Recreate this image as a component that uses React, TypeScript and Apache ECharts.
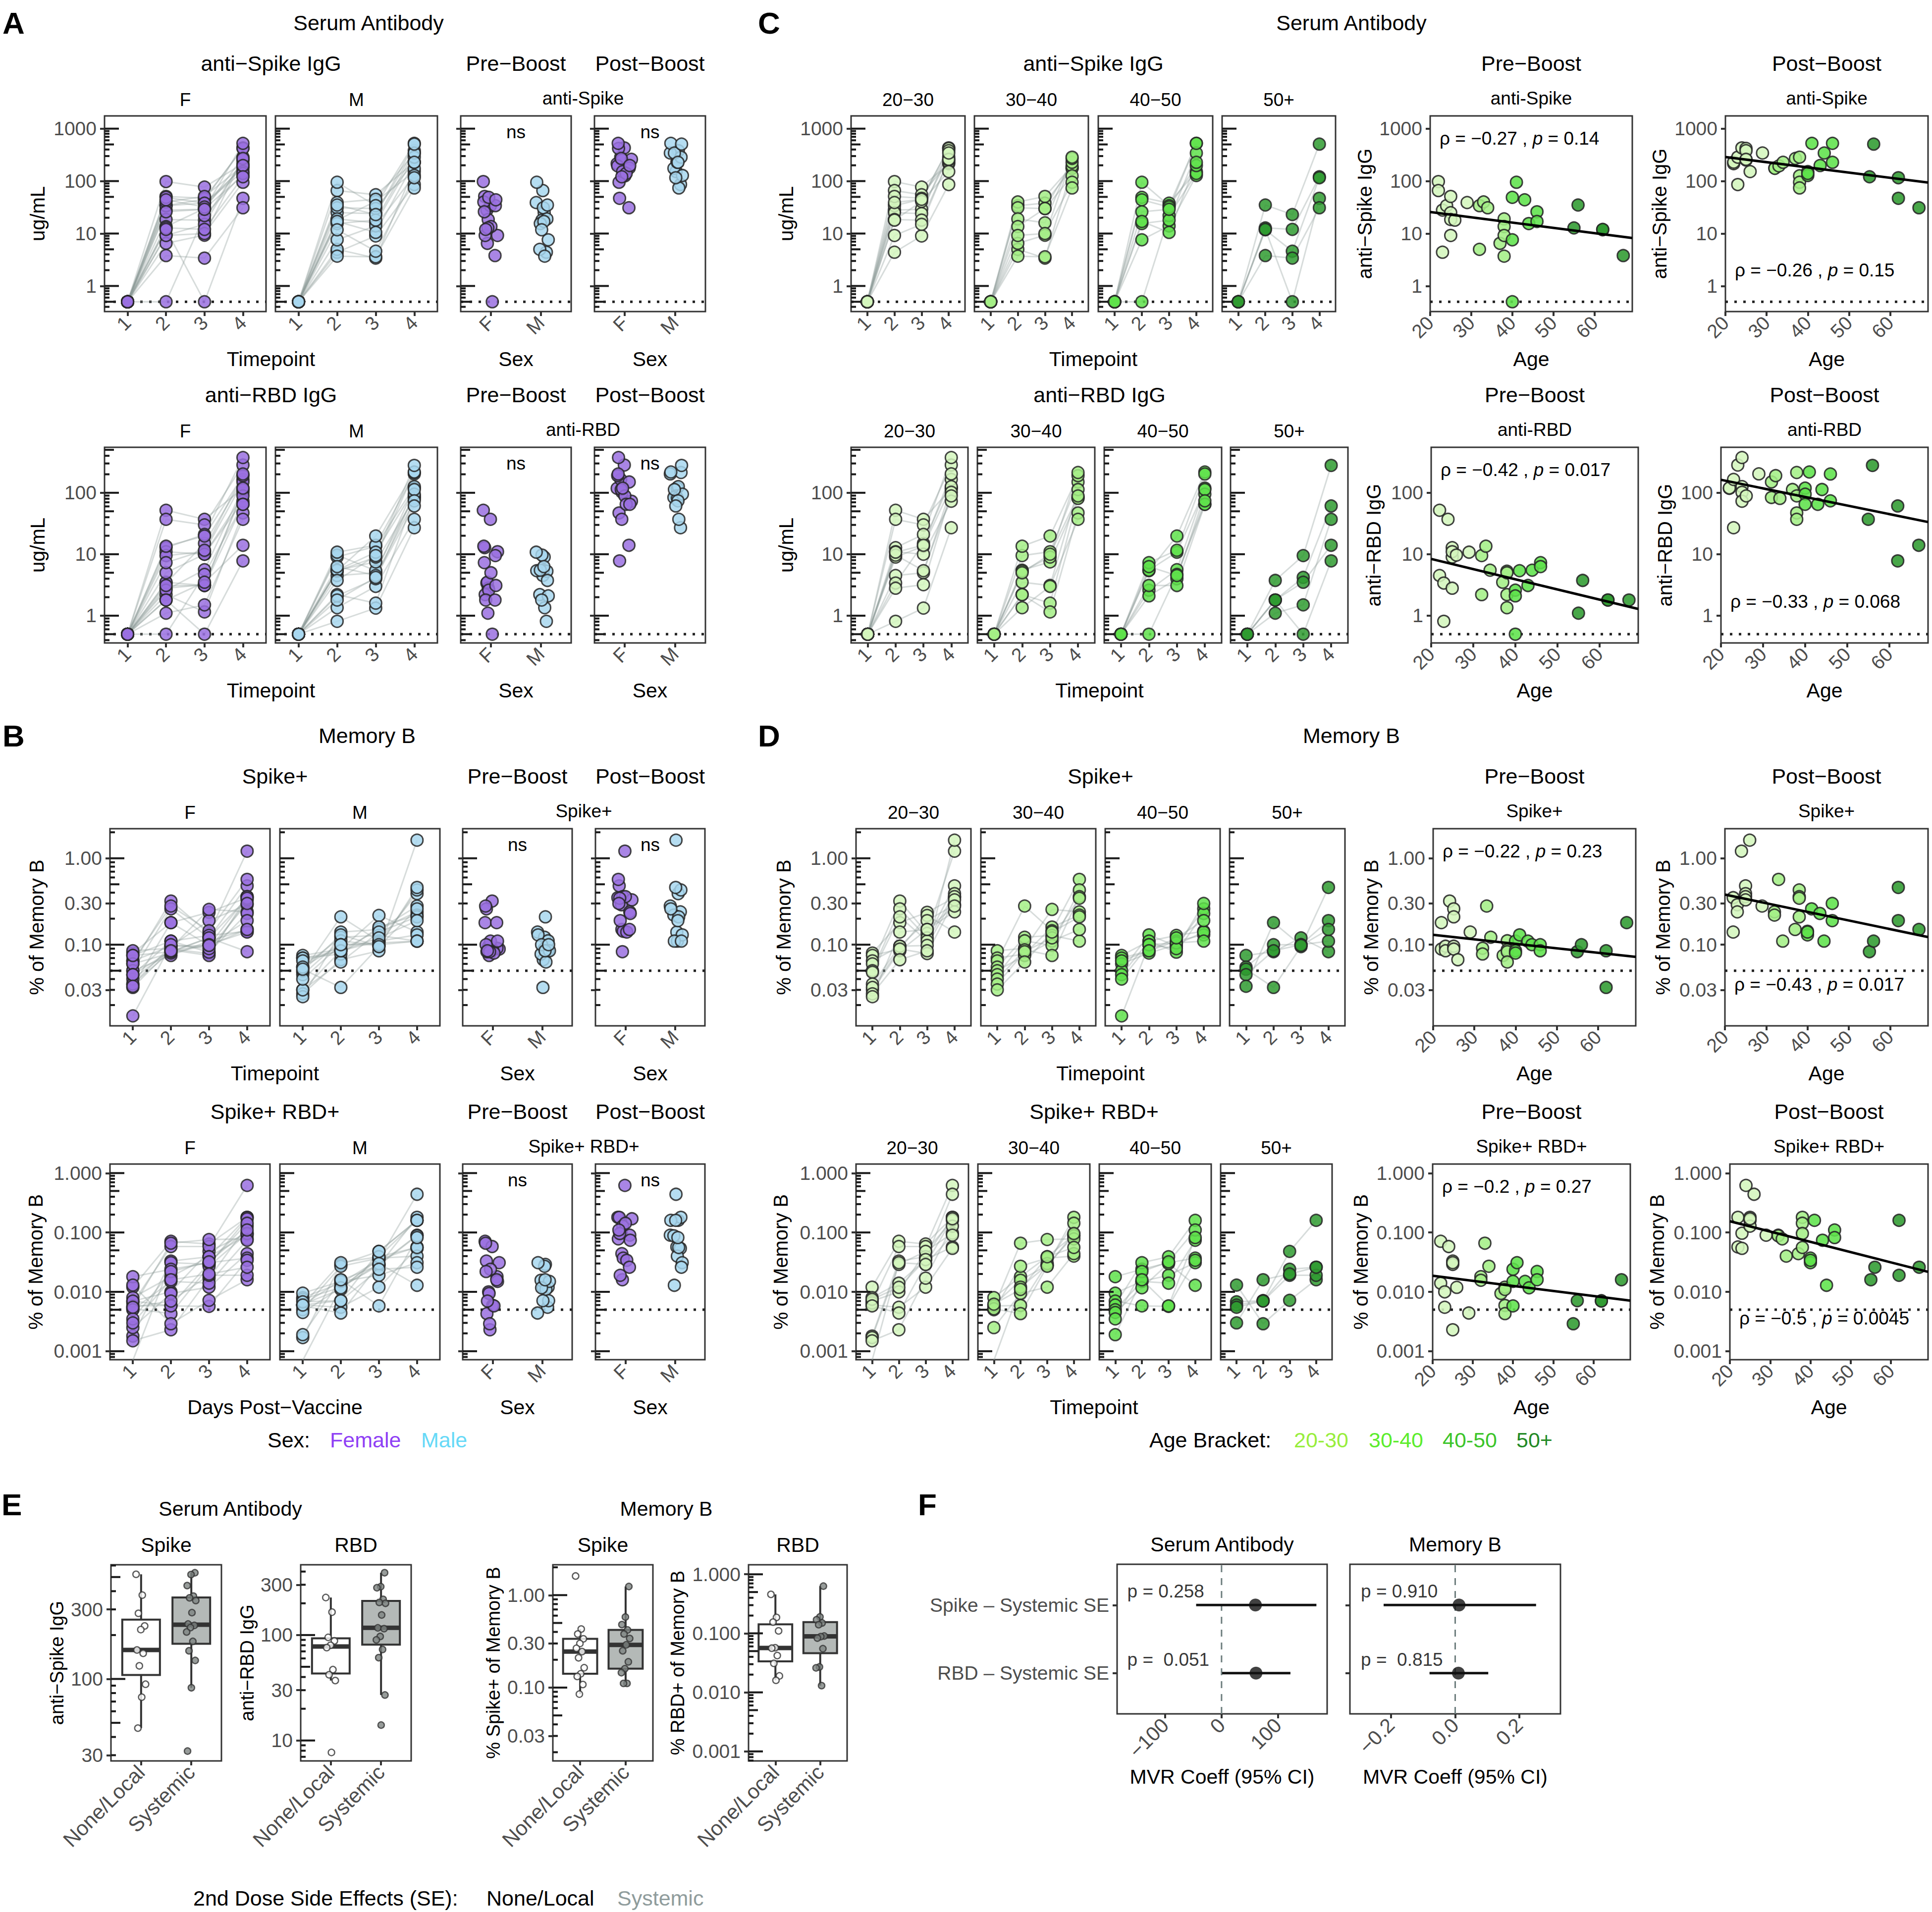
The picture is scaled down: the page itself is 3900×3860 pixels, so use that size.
import React, { useEffect, useRef } from "react";
import * as echarts from "echarts";

const W = 3900;
const H = 3860;

// ================= DATA =================
// subjects (age, sex)
const subjectAge = [22, 22, 23, 23, 24, 25, 25, 25, 25, 26, 29, 32, 32, 33, 34, 37, 38, 38, 38, 38, 40, 40, 40, 41, 43, 44, 46, 46, 55, 56, 62, 62, 67];
const subjectSex = ["F", "M", "F", "M", "F", "F", "M", "F", "F", "M", "M", "F", "M", "F", "M", "F", "M", "F", "F", "M", "F", "M", "F", "M", "F", "M", "F", "M", "F", "M", "M", "F", "F"];

// anti-Spike IgG (ug/mL), timepoints 1-4
const antiSpikeT1 = [0.5, 0.5, 0.5, 0.5, 0.5, 0.5, 0.5, 0.5, 0.5, 0.5, 0.5, 0.5, 0.5, 0.5, 0.5, 0.5, 0.5, 0.5, 0.5, 0.5, 0.5, 0.5, 0.5, 0.5, 0.5, 0.5, 0.5, 0.5, 0.5, 0.5, 0.5, 0.5, 0.5];
const antiSpikeT2 = [98, 66, 28, 4.4, 34, 51, 25, 18.5, 9.2, 18, 39, 34, 5.0, 40, 31, 6.5, 19, 13.6, 9.2, 3.7, 49, 7.6, 0.5, 95, 44, 15.5, 26, 17, 12.8, 35, 11.8, 12, 3.8];
const antiSpikeT3 = [77, 55, 29, 9, 45, 47, 24, 18, 15, 41, 45, 38, 3.4, 51, 30, 9.3, 16, 30, 10, 3.6, 38, 14, 22, 34, 32, 18, 29, 10.5, 12, 23, 4.6, 0.5, 3.4];
const antiSpikeT4 = [215, 230, 286, 86, 430, 420, 380, 252, 260, 152, 343, 178, 175, 195, 228, 270, 286, 126, 95, 74, 152, 128, 140, 525, 198, 343, 525, 228, 121, 507, 116, 47, 31];

// anti-RBD IgG (ug/mL)
const antiRBDT1 = [0.5, 0.5, 0.5, 0.5, 0.5, 0.5, 0.5, 0.5, 0.5, 0.5, 0.5, 0.5, 0.5, 0.5, 0.5, 0.5, 0.5, 0.5, 0.5, 0.5, 0.5, 0.5, 0.5, 0.5, 0.5, 0.5, 0.5, 0.5, 0.5, 0.5, 0.5, 0.5, 0.5];
const antiRBDT2 = [52, 4.5, 3.4, 0.81, 37, 12.8, 9.0, 2.8, 11, 9.7, 10.8, 9.5, 2.2, 13.5, 5.5, 3.5, 5.3, 5.0, 2.2, 1.35, 2.6, 2.1, 0.5, 5.4, 3.1, 5.5, 7.3, 6.3, 1.1, 3.75, 1.8, 1.8, 1.8];
const antiRBDT3 = [37, 5, 15, 1.33, 30, 21, 13.5, 3.2, 10, 5.4, 14, 11, 1.6, 19.8, 7.5, 3.1, 9, 10, 1.15, 3, 5.6, 4.0, 4.7, 19.8, 3.1, 10.8, 11.6, 4.5, 1.5, 9.5, 4.2, 0.5, 3.5];
const antiRBDT4 = [118, 120, 165, 27, 283, 375, 126, 102, 73, 89, 203, 150, 84, 190, 81, 113, 214, 89, 47, 37, 119, 95, 65, 218, 65, 113, 202, 74, 37, 279, 61, 7.8, 14];

// Spike+ memory B (% of memory B)
const memSpikeT1 = [0.08, 0.075, 0.065, 0.03, 0.06, 0.05, 0.048, 0.035, 0.032, 0.027, 0.025, 0.085, 0.07, 0.065, 0.055, 0.05, 0.045, 0.04, 0.035, 0.03, 0.075, 0.07, 0.06, 0.05, 0.045, 0.04, 0.015, 0.065, 0.075, 0.055, 0.052, 0.045, 0.033];
const memSpikeT2 = [0.18, 0.089, 0.096, 0.085, 0.32, 0.26, 0.21, 0.096, 0.089, 0.067, 0.14, 0.091, 0.078, 0.28, 0.122, 0.075, 0.111, 0.087, 0.083, 0.063, 0.11, 0.085, 0.08, 0.13, 0.11, 0.1, 0.1, 0.085, 0.083, 0.1, 0.032, 0.085, 0.18];
const memSpikeT3 = [0.237, 0.218, 0.19, 0.15, 0.135, 0.12, 0.11, 0.098, 0.079, 0.085, 0.15, 0.256, 0.16, 0.145, 0.128, 0.11, 0.098, 0.075, 0.12, 0.14, 0.128, 0.11, 0.1, 0.096, 0.082, 0.105, 0.09, 0.12, 0.12, 0.1, 0.095, 0.1, 0.098];
const memSpikeT4 = [0.35, 0.14, 0.29, 0.24, 1.21, 0.48, 0.39, 0.36, 0.33, 1.62, 0.28, 0.24, 0.22, 0.57, 0.11, 0.15, 0.43, 0.36, 0.345, 0.21, 0.143, 0.13, 0.14, 0.26, 0.23, 0.11, 0.30, 0.19, 0.083, 0.11, 0.46, 0.19, 0.15];

// Spike+ RBD+ memory B (% of memory B)
const memRBDT1 = [0.012, 0.008, 0.007, 0.006, 0.0065, 0.0018, 0.0017, 0.0015, 0.0007, 0.0075, 0.0058, 0.008, 0.006, 0.0055, 0.005, 0.0025, 0.0007, 0.0058, 0.0052, 0.0062, 0.018, 0.0095, 0.007, 0.006, 0.005, 0.0045, 0.0035, 0.0019, 0.013, 0.0068, 0.006, 0.0055, 0.003];
const memRBDT2 = [0.071, 0.014, 0.010, 0.0055, 0.058, 0.033, 0.029, 0.0023, 0.031, 0.0119, 0.0044, 0.018, 0.0157, 0.066, 0.027, 0.0094, 0.012, 0.0059, 0.0043, 0.011, 0.024, 0.015, 0.0058, 0.031, 0.015, 0.0117, 0.022, 0.016, 0.0029, 0.0071, 0.0071, 0.007, 0.016];
const memRBDT3 = [0.064, 0.035, 0.048, 0.012, 0.058, 0.039, 0.048, 0.017, 0.029, 0.035, 0.029, 0.039, 0.028, 0.076, 0.037, 0.012, 0.028, 0.03, 0.027, 0.039, 0.031, 0.019, 0.0057, 0.039, 0.014, 0.03, 0.032, 0.0058, 0.0072, 0.024, 0.048, 0.019, 0.02];
const memRBDT4 = [0.18, 0.057, 0.097, 0.054, 0.62, 0.18, 0.16, 0.128, 0.17, 0.44, 0.09, 0.09, 0.088, 0.078, 0.040, 0.044, 0.18, 0.143, 0.096, 0.056, 0.037, 0.031, 0.034, 0.16, 0.074, 0.0129, 0.11, 0.082, 0.016, 0.026, 0.16, 0.019, 0.026];

// categories / labels
const timepoints = [1, 2, 3, 4];
const timepointLabels = ["1", "2", "3", "4"];
const sexLevels = ["F", "M"];
const ageStripLabels = ["20−30", "30−40", "40−50", "50+"];
const ageLegendLabels = ["20-30", "30-40", "40-50", "50+"];
const ageTicks = [20, 30, 40, 50, 60];

// correlation annotations (Pre-Boost, Post-Boost) per measure
const rhoPre = ["−0.27", "−0.42", "−0.22", "−0.2"];
const pPre = ["0.14", "0.017", "0.23", "0.27"];
const rhoPost = ["−0.26", "−0.33", "−0.43", "−0.5"];
const pPost = ["0.15", "0.068", "0.017", "0.0045"];

// Panel E: 2nd dose side effects
const seGroups = ["None/Local", "Systemic"];
const seSpikeNone = [522, 376, 282, 231, 218, 158, 150, 123, 92, 75, 46];
const seSpikeSys = [535, 520, 437, 370, 360, 345, 285, 238, 233, 225, 210, 181, 156, 134, 87, 32];
const seRBDNone = [227, 165, 95, 88, 80, 76, 47, 42, 37, 7.7];
const seRBDSys = [390, 288, 281, 218, 204, 200, 155, 117, 115, 97, 90, 73, 61, 27, 14];
const seMemSpikeNone = [1.61, 0.43, 0.38, 0.337, 0.30, 0.266, 0.245, 0.21, 0.164, 0.141, 0.132, 0.108, 0.085];
const seMemSpikeSys = [1.24, 0.58, 0.48, 0.42, 0.38, 0.34, 0.29, 0.25, 0.19, 0.16, 0.145, 0.111, 0.111];
const seMemRBDNone = [0.457, 0.186, 0.155, 0.11, 0.057, 0.056, 0.042, 0.031, 0.019, 0.016];
const seMemRBDSys = [0.63, 0.19, 0.17, 0.15, 0.14, 0.09, 0.088, 0.083, 0.055, 0.027, 0.026, 0.013];

// Panel F: MVR coefficients (RBD, Spike)
const forestLabels = ["RBD – Systemic SE", "Spike – Systemic SE"];
const serumEst = [61, 60];
const serumLo = [1, -45];
const serumHi = [122, 168];
const serumP = ["p =  0.051", "p = 0.258"];
const memEst = [0.01, 0.012];
const memLo = [-0.08, -0.223];
const memHi = [0.103, 0.252];
const memP = ["p =  0.815", "p = 0.910"];

// ================= STYLE =================
const FONT = "'Liberation Sans', Arial, Helvetica, sans-serif";
const TICK_COLOR = "#4d4d4d";
const sexFill: any = { F: "#9a70e0", M: "#a8d7ef" };
const sexLegend: any = { F: "#8f3ff5", M: "#66d9f7" };
const ageFill = ["#d4f6bd", "#a4ef86", "#5fe24b", "#2f9b30"];
const ageLegend = ["#98ee3c", "#5ced2c", "#3cc52a", "#238a25"];

const lg = (v: number) => Math.log10(v);
const jit = (i: number) => ((i * 0.6180339887) % 1) * 2 - 1;
const bracketOf = (a: number) => (a < 30 ? 0 : a < 40 ? 1 : a < 50 ? 2 : 3);

function logAxis(minV: number, maxV: number, ticks: number[], labels: string[]) {
  return { min: lg(minV), max: lg(maxV), tickPos: ticks.map(lg), labels, rotate: 0, fontSize: 39 };
}
function linAxis(min: number, max: number, ticks: number[], labels: string[], rotate = 45, fontSize = 39) {
  return { min, max, tickPos: ticks, labels, rotate, fontSize };
}

const yAntiSpike = logAxis(0.325, 1750, [1, 10, 100, 1000], ["1", "10", "100", "1000"]);
const yAntiRBD = logAxis(0.36, 550, [1, 10, 100], ["1", "10", "100"]);
const yMemSpike = logAxis(0.0115, 2.2, [0.03, 0.1, 0.3, 1], ["0.03", "0.10", "0.30", "1.00"]);
const yMemRBD = logAxis(0.00072, 1.42, [0.001, 0.01, 0.1, 1], ["0.001", "0.010", "0.100", "1.000"]);

const measures = [
  { T: [antiSpikeT1, antiSpikeT2, antiSpikeT3, antiSpikeT4], y: yAntiSpike, lod: 0.5, rowTitle: "anti−Spike IgG", strip: "anti-Spike", yTitle: "ug/mL", scTitle: "anti−Spike IgG" },
  { T: [antiRBDT1, antiRBDT2, antiRBDT3, antiRBDT4], y: yAntiRBD, lod: 0.5, rowTitle: "anti−RBD IgG", strip: "anti-RBD", yTitle: "ug/mL", scTitle: "anti−RBD IgG" },
  { T: [memSpikeT1, memSpikeT2, memSpikeT3, memSpikeT4], y: yMemSpike, lod: 0.05, rowTitle: "Spike+", strip: "Spike+", yTitle: "% of Memory B", scTitle: "% of Memory B" },
  { T: [memRBDT1, memRBDT2, memRBDT3, memRBDT4], y: yMemRBD, lod: 0.005, rowTitle: "Spike+ RBD+", strip: "Spike+ RBD+", yTitle: "% of Memory B", scTitle: "% of Memory B" },
];

// layout (pixels)
const rows = [
  { top: 234, bot: 629 },
  { top: 903, bot: 1298 },
  { top: 1673, bot: 2071 },
  { top: 2350, bot: 2745 },
];
const leftBoxesA = [[211, 537], [556, 883], [930, 1153], [1200, 1424]];
const leftBoxesB = [[222, 545], [565, 888], [934, 1155], [1202, 1423]];
const leftXTitles = ["Timepoint", "Timepoint", "Timepoint", "Days Post−Vaccine"];
const rightAgeBoxes = [
  [[1718, 1948], [1967, 2197], [2217, 2448], [2467, 2696]],
  [[1718, 1954], [1973, 2210], [2229, 2466], [2484, 2721]],
  [[1728, 1960], [1980, 2212], [2231, 2463], [2482, 2715]],
  [[1728, 1955], [1974, 2200], [2219, 2445], [2464, 2689]],
];
const rightScBoxes = [
  [[2887, 3295], [3483, 3892]],
  [[2889, 3307], [3474, 3892]],
  [[2893, 3302], [3482, 3892]],
  [[2892, 3291], [3492, 3892]],
];
// y-title offsets to the left of the first box in each row
const leftYTitleOff = [135, 135, 148, 150];
const ageYTitleOff = [131, 131, 146, 152];
const scPreYTitleOff = [132, 116, 125, 145];
const scPostYTitleOff = [133, 113, 125, 147];

function buildOption() {
  const grids: any[] = [];
  const xAxes: any[] = [];
  const yAxes: any[] = [];
  const series: any[] = [];
  const graphics: any[] = [];

  const txt = (x: number, y: number, text: string, o: any = {}) => {
    const align = o.align || "center";
    const va = o.va || "middle";
    const style: any = {
      text,
      fill: o.color || "#000",
      fontSize: o.size || 43,
      fontFamily: FONT,
      fontWeight: o.weight || "normal",
      textAlign: align,
      textVerticalAlign: va,
      align,
      verticalAlign: va,
    };
    if (o.rich) style.rich = o.rich;
    graphics.push({ type: "text", x, y, rotation: o.rot || 0, silent: true, z: 100, style });
  };

  const labelFor = (cfg: any) => (v: number) => {
    for (let j = 0; j < cfg.tickPos.length; j++) if (Math.abs(cfg.tickPos[j] - v) < 1e-6) return cfg.labels[j];
    return "";
  };

  const makeAxis = (gi: number, cfg: any, showLabels: boolean, showTicks: boolean, extra: any = {}) => ({
    type: "value",
    gridIndex: gi,
    min: cfg.min,
    max: cfg.max,
    axisLine: { show: false, onZero: false },
    splitLine: { show: false },
    minorTick: { show: false },
    axisTick: { show: showTicks, customValues: cfg.tickPos, length: 9, inside: false, lineStyle: { color: "#333", width: 4 } },
    axisLabel: {
      show: showLabels,
      customValues: cfg.tickPos,
      formatter: labelFor(cfg),
      rotate: cfg.rotate || 0,
      fontSize: cfg.fontSize || 39,
      color: TICK_COLOR,
      fontFamily: FONT,
      margin: extra.margin || 14,
      hideOverlap: false,
    },
  });

  const addPanel = (x0: number, x1: number, y0: number, y1: number, xCfg: any, yCfg: any, o: any) => {
    const gi = grids.length;
    grids.push({
      left: x0, top: y0, width: x1 - x0, height: y1 - y0,
      show: true, borderColor: "#333", borderWidth: 3, backgroundColor: "#fff",
      containLabel: false, outerBoundsMode: "none",
    });
    xAxes.push(makeAxis(gi, xCfg, o.xLabels, o.xTicks, { margin: 16 }));
    yAxes.push(makeAxis(gi, yCfg, o.yLabels, o.yTicks, { margin: 16 }));
    return gi;
  };

  const addLogTicks = (gi: number, xCfg: any, yCfg: any) => {
    const data: any[] = [];
    for (let d = Math.floor(yCfg.min); d <= Math.ceil(yCfg.max); d++) {
      for (let k = 1; k <= 9; k++) {
        const v = d + Math.log10(k);
        if (v >= yCfg.min && v <= yCfg.max) data.push([xCfg.min, v, k === 1 ? 0 : k === 5 ? 1 : 2]);
      }
    }
    series.push({
      type: "custom", xAxisIndex: gi, yAxisIndex: gi, data, encode: { x: 0, y: 1 }, silent: true, z: 6,
      renderItem: (_p: any, api: any) => {
        const pt = api.coord([api.value(0), api.value(1)]);
        const kind = api.value(2);
        const len = kind === 0 ? 29 : kind === 1 ? 19 : 10;
        return { type: "line", shape: { x1: pt[0], y1: pt[1], x2: pt[0] + len, y2: pt[1] }, style: { stroke: "#1a1a1a", lineWidth: 4 } };
      },
    });
  };

  const addLOD = (gi: number, xCfg: any, lod: number) => {
    series.push({
      type: "line", xAxisIndex: gi, yAxisIndex: gi, silent: true, z: 2, symbol: "none",
      data: [[xCfg.min, lg(lod)], [xCfg.max, lg(lod)]],
      lineStyle: { color: "#222", width: 5, type: [5, 13] },
    });
  };

  const tpX = linAxis(0.4, 4.6, timepoints, timepointLabels);
  const sexX = linAxis(0.4, 2.6, [1, 2], sexLevels);
  const ageX = linAxis(20, 69.2, ageTicks, ageTicks.map(String));
  const seX = linAxis(0.4, 2.6, [1, 2], seGroups, 45, 42);

  const addTimePanel = (x0: number, x1: number, row: any, m: any, idxs: number[], color: string, showY: boolean) => {
    const gi = addPanel(x0, x1, row.top, row.bot, tpX, m.y, { xLabels: true, xTicks: true, yLabels: showY, yTicks: showY });
    addLogTicks(gi, tpX, m.y);
    addLOD(gi, tpX, m.lod);
    series.push({
      type: "lines", coordinateSystem: "cartesian2d", xAxisIndex: gi, yAxisIndex: gi, polyline: true, silent: true, z: 3,
      lineStyle: { color: "#8c9c99", width: 3, opacity: 0.35 },
      data: idxs.map((i) => ({ coords: m.T.map((arr: number[], t: number) => [timepoints[t], lg(arr[i])]) })),
    });
    const pts: any[] = [];
    idxs.forEach((i) => m.T.forEach((arr: number[], t: number) => pts.push([timepoints[t], lg(arr[i])])));
    series.push({
      type: "scatter", xAxisIndex: gi, yAxisIndex: gi, z: 4, symbolSize: 24, silent: true,
      itemStyle: { color, borderColor: "#262626", borderWidth: 3, opacity: 0.85 },
      data: pts,
    });
  };

  const addSexPanel = (x0: number, x1: number, row: any, m: any, vals: number[]) => {
    const gi = addPanel(x0, x1, row.top, row.bot, sexX, m.y, { xLabels: true, xTicks: true, yLabels: false, yTicks: true });
    addLogTicks(gi, sexX, m.y);
    addLOD(gi, sexX, m.lod);
    series.push({
      type: "scatter", xAxisIndex: gi, yAxisIndex: gi, z: 4, symbolSize: 24, silent: true,
      itemStyle: { borderColor: "#262626", borderWidth: 3, opacity: 0.85 },
      data: subjectSex.map((s, i) => ({
        value: [(s === "F" ? 1 : 2) + jit(i) * 0.15, lg(vals[i])],
        itemStyle: { color: sexFill[s] },
      })),
    });
    txt((x0 + x1) / 2, row.top + 32, "ns", { size: 37 });
  };

  const addAgeScatter = (x0: number, x1: number, row: any, m: any, vals: number[], rho: string, p: string, textTop: boolean) => {
    const gi = addPanel(x0, x1, row.top, row.bot, ageX, m.y, { xLabels: true, xTicks: true, yLabels: true, yTicks: true });
    addLOD(gi, ageX, m.lod);
    // least squares fit of log10(value) on age
    const xs = subjectAge;
    const ys = vals.map(lg);
    const n = xs.length;
    const mx = xs.reduce((a, b) => a + b, 0) / n;
    const my = ys.reduce((a, b) => a + b, 0) / n;
    let sxy = 0, sxx = 0;
    for (let i = 0; i < n; i++) { sxy += (xs[i] - mx) * (ys[i] - my); sxx += (xs[i] - mx) ** 2; }
    const b = sxy / sxx;
    const a = my - b * mx;
    series.push({
      type: "scatter", xAxisIndex: gi, yAxisIndex: gi, z: 4, symbolSize: 24, silent: true,
      itemStyle: { borderColor: "#262626", borderWidth: 3, opacity: 0.88 },
      data: xs.map((age, i) => ({ value: [age, ys[i]], itemStyle: { color: ageFill[bracketOf(age)] } })),
    });
    series.push({
      type: "line", xAxisIndex: gi, yAxisIndex: gi, z: 5, symbol: "none", silent: true,
      data: [[ageX.min, a + b * ageX.min], [ageX.max, a + b * ageX.max]],
      lineStyle: { color: "#000", width: 5 },
    });
    const ty = textTop ? row.top + 45 : row.bot - 84;
    txt(x0 + 19, ty, `{n|ρ = ${rho} , }{i|p}{n| = ${p}}`, {
      align: "left", size: 37,
      rich: {
        n: { fontSize: 37, fontFamily: FONT, fill: "#000", color: "#000" },
        i: { fontSize: 37, fontFamily: FONT, fontStyle: "italic", fill: "#000", color: "#000" },
      },
    });
  };

  // ---------- section titles and letters ----------
  txt(5, 46, "A", { align: "left", size: 62, weight: "bold" });
  txt(5, 1485, "B", { align: "left", size: 62, weight: "bold" });
  txt(1530, 46, "C", { align: "left", size: 62, weight: "bold" });
  txt(1530, 1485, "D", { align: "left", size: 62, weight: "bold" });
  txt(3, 3037, "E", { align: "left", size: 62, weight: "bold" });
  txt(1853, 3037, "F", { align: "left", size: 62, weight: "bold" });
  txt(744, 46, "Serum Antibody");
  txt(2728, 46, "Serum Antibody");
  txt(741, 1485, "Memory B");
  txt(2728, 1485, "Memory B");

  // ---------- left (A, B) ----------
  measures.forEach((m, r) => {
    const row = rows[r];
    const bx = r < 2 ? leftBoxesA : leftBoxesB;
    const [F, M, Pre, Post] = bx;
    const fIdx = subjectSex.map((s, i) => (s === "F" ? i : -1)).filter((i) => i >= 0);
    const mIdx = subjectSex.map((s, i) => (s === "M" ? i : -1)).filter((i) => i >= 0);
    addTimePanel(F[0], F[1], row, m, fIdx, sexFill.F, true);
    addTimePanel(M[0], M[1], row, m, mIdx, sexFill.M, false);
    addSexPanel(Pre[0], Pre[1], row, m, m.T[1]);
    addSexPanel(Post[0], Post[1], row, m, m.T[3]);
    txt((F[0] + M[1]) / 2, row.top - 106, m.rowTitle);
    txt((Pre[0] + Pre[1]) / 2, row.top - 106, "Pre−Boost");
    txt((Post[0] + Post[1]) / 2, row.top - 106, "Post−Boost");
    txt((F[0] + F[1]) / 2, row.top - 33, "F", { size: 37 });
    txt((M[0] + M[1]) / 2, row.top - 33, "M", { size: 37 });
    txt((Pre[0] + Post[1]) / 2, row.top - 36, m.strip, { size: 37 });
    txt((F[0] + M[1]) / 2, row.bot + 96, leftXTitles[r], { size: 41 });
    txt((Pre[0] + Pre[1]) / 2, row.bot + 96, "Sex", { size: 41 });
    txt((Post[0] + Post[1]) / 2, row.bot + 96, "Sex", { size: 41 });
    txt(F[0] - leftYTitleOff[r], (row.top + row.bot) / 2, m.yTitle, { size: 40, rot: Math.PI / 2 });
  });

  // ---------- right (C, D) ----------
  measures.forEach((m, r) => {
    const row = rows[r];
    const ab = rightAgeBoxes[r];
    ab.forEach((bx, k) => {
      const idxs = subjectAge.map((a, i) => (bracketOf(a) === k ? i : -1)).filter((i) => i >= 0);
      addTimePanel(bx[0], bx[1], row, m, idxs, ageFill[k], k === 0);
      txt((bx[0] + bx[1]) / 2, row.top - 33, ageStripLabels[k], { size: 37 });
    });
    const [pre, post] = rightScBoxes[r];
    addAgeScatter(pre[0], pre[1], row, m, m.T[1], rhoPre[r], pPre[r], true);
    addAgeScatter(post[0], post[1], row, m, m.T[3], rhoPost[r], pPost[r], false);
    const cx = (ab[0][0] + ab[3][1]) / 2;
    txt(cx, row.top - 106, m.rowTitle);
    txt((pre[0] + pre[1]) / 2, row.top - 106, "Pre−Boost");
    txt((post[0] + post[1]) / 2, row.top - 106, "Post−Boost");
    txt((pre[0] + pre[1]) / 2, row.top - 36, m.strip, { size: 37 });
    txt((post[0] + post[1]) / 2, row.top - 36, m.strip, { size: 37 });
    txt(cx, row.bot + 96, "Timepoint", { size: 41 });
    txt((pre[0] + pre[1]) / 2, row.bot + 96, "Age", { size: 41 });
    txt((post[0] + post[1]) / 2, row.bot + 96, "Age", { size: 41 });
    txt(ab[0][0] - ageYTitleOff[r], (row.top + row.bot) / 2, m.yTitle, { size: 40, rot: Math.PI / 2 });
    txt(pre[0] - scPreYTitleOff[r], (row.top + row.bot) / 2, m.scTitle, { size: 40, rot: Math.PI / 2 });
    txt(post[0] - scPostYTitleOff[r], (row.top + row.bot) / 2, m.scTitle, { size: 40, rot: Math.PI / 2 });
  });

  // ---------- legends ----------
  txt(540, 2907, "Sex:", { align: "left", size: 43 });
  txt(666, 2907, "Female", { align: "left", size: 43, color: sexLegend.F });
  txt(850, 2907, "Male", { align: "left", size: 43, color: sexLegend.M });
  txt(2320, 2907, "Age Bracket:", { align: "left", size: 43 });
  const ageLegendX = [2612, 2763, 2912, 3061];
  ageLegendLabels.forEach((l, k) => txt(ageLegendX[k], 2907, l, { align: "left", size: 43, color: ageLegend[k] }));

  // ---------- E ----------
  const quant = (s: number[], p: number) => {
    const h = (s.length - 1) * p;
    const lo = Math.floor(h);
    const hi = Math.min(lo + 1, s.length - 1);
    return s[lo] + (h - lo) * (s[hi] - s[lo]);
  };
  const boxStats = (vals: number[]) => {
    const s = vals.map(lg).sort((a, b) => a - b);
    const q1 = quant(s, 0.25), med = quant(s, 0.5), q3 = quant(s, 0.75);
    const iqr = q3 - q1;
    const lo = s.filter((v) => v >= q1 - 1.5 * iqr)[0];
    const inside = s.filter((v) => v <= q3 + 1.5 * iqr);
    const hi = inside[inside.length - 1];
    return [lo, q1, med, q3, hi];
  };
  const eBoxFill = ["#ffffff", "#b4b9b7"];
  const eDotFill = ["#ffffff", "#7d8381"];
  const eTop = 3159, eBot = 3555;
  const ePanels = [
    { x: [224, 447], y: logAxis(27.4, 607, [30, 100, 300], ["30", "100", "300"]), groups: [seSpikeNone, seSpikeSys], title: "Spike", yTitle: "anti−Spike IgG", yx: 115 },
    { x: [607, 830], y: logAxis(6.4, 464, [10, 30, 100, 300], ["10", "30", "100", "300"]), groups: [seRBDNone, seRBDSys], title: "RBD", yTitle: "anti−RBD IgG", yx: 499 },
    { x: [1116, 1318], y: logAxis(0.0161, 2.13, [0.03, 0.1, 0.3, 1], ["0.03", "0.10", "0.30", "1.00"]), groups: [seMemSpikeNone, seMemSpikeSys], title: "Spike", yTitle: "% Spike+ of Memory B", yx: 996 },
    { x: [1511, 1710], y: logAxis(0.00069, 1.45, [0.001, 0.01, 0.1, 1], ["0.001", "0.010", "0.100", "1.000"]), groups: [seMemRBDNone, seMemRBDSys], title: "RBD", yTitle: "% RBD+ of Memory B", yx: 1368 },
  ];
  ePanels.forEach((pnl) => {
    const gi = addPanel(pnl.x[0], pnl.x[1], eTop, eBot, seX, pnl.y, { xLabels: true, xTicks: true, yLabels: true, yTicks: true });
    addLogTicks(gi, seX, pnl.y);
    series.push({
      type: "custom", xAxisIndex: gi, yAxisIndex: gi, z: 3, silent: true,
      data: pnl.groups.map((g, k) => [k + 1, ...boxStats(g)]),
      encode: { x: 0, y: [1, 2, 3, 4, 5] },
      renderItem: (params: any, api: any) => {
        const x = api.value(0);
        const pLo = api.coord([x, api.value(1)]);
        const pQ1 = api.coord([x, api.value(2)]);
        const pMed = api.coord([x, api.value(3)]);
        const pQ3 = api.coord([x, api.value(4)]);
        const pHi = api.coord([x, api.value(5)]);
        const half = api.size([0.75, 0])[0] / 2;
        const st = { stroke: "#333", lineWidth: 4 };
        return {
          type: "group",
          children: [
            { type: "line", shape: { x1: pLo[0], y1: pLo[1], x2: pQ1[0], y2: pQ1[1] }, style: st },
            { type: "line", shape: { x1: pQ3[0], y1: pQ3[1], x2: pHi[0], y2: pHi[1] }, style: st },
            { type: "rect", shape: { x: pQ1[0] - half, y: pQ3[1], width: 2 * half, height: pQ1[1] - pQ3[1] }, style: { fill: eBoxFill[params.dataIndex], stroke: "#333", lineWidth: 4 } },
            { type: "line", shape: { x1: pMed[0] - half, y1: pMed[1], x2: pMed[0] + half, y2: pMed[1] }, style: { stroke: "#333", lineWidth: 9 } },
          ],
        };
      },
    });
    const pts: any[] = [];
    pnl.groups.forEach((g, k) => g.forEach((v, i) => pts.push({ value: [k + 1 + jit(i + 3 * k) * 0.1, lg(v)], itemStyle: { color: eDotFill[k] } })));
    series.push({
      type: "scatter", xAxisIndex: gi, yAxisIndex: gi, z: 5, symbolSize: 13, silent: true,
      itemStyle: { borderColor: "#333", borderWidth: 2.5 },
      data: pts,
    });
    txt((pnl.x[0] + pnl.x[1]) / 2, 3119, pnl.title, { size: 41 });
    txt(pnl.yx, (eTop + eBot) / 2, pnl.yTitle, { size: 38, rot: Math.PI / 2 });
  });
  txt(465, 3046, "Serum Antibody", { size: 41 });
  txt(1345, 3046, "Memory B", { size: 41 });
  txt(390, 3832, "2nd Dose Side Effects (SE):", { align: "left", size: 43 });
  txt(982, 3832, "None/Local", { align: "left", size: 43 });
  txt(1246, 3832, "Systemic", { align: "left", size: 43, color: "#8f9c9c" });

  // ---------- F ----------
  const fTop = 3158, fBot = 3460;
  const fY = { min: 0.4, max: 2.6, tickPos: [1, 2], labels: forestLabels, rotate: 0, fontSize: 39 };
  const fPanels = [
    { x: [2255, 2679], xc: linAxis(-185, 187, [-100, 0, 100], ["−100", "0", "100"], 45, 41), est: serumEst, lo: serumLo, hi: serumHi, p: serumP, tx: -167, title: "Serum Antibody", showY: true },
    { x: [2725, 3150], xc: linAxis(-0.328, 0.328, [-0.2, 0, 0.2], ["−0.2", "0.0", "0.2"], 45, 41), est: memEst, lo: memLo, hi: memHi, p: memP, tx: -0.294, title: "Memory B", showY: false },
  ];
  fPanels.forEach((pnl) => {
    const gi = addPanel(pnl.x[0], pnl.x[1], fTop, fBot, pnl.xc, fY, { xLabels: true, xTicks: true, yLabels: pnl.showY, yTicks: true });
    series.push({
      type: "line", xAxisIndex: gi, yAxisIndex: gi, z: 2, symbol: "none", silent: true,
      data: [[0, fY.min], [0, fY.max]],
      lineStyle: { color: "#6e7e7e", width: 3, type: [14, 12] },
    });
    series.push({
      type: "custom", xAxisIndex: gi, yAxisIndex: gi, z: 3, silent: true,
      data: pnl.est.map((_e, k) => [pnl.lo[k], pnl.hi[k], k + 1]),
      encode: { x: [0, 1], y: 2 },
      renderItem: (_p: any, api: any) => {
        const a = api.coord([api.value(0), api.value(2)]);
        const b = api.coord([api.value(1), api.value(2)]);
        return { type: "line", shape: { x1: a[0], y1: a[1], x2: b[0], y2: b[1] }, style: { stroke: "#111", lineWidth: 5 } };
      },
    });
    series.push({
      type: "scatter", xAxisIndex: gi, yAxisIndex: gi, z: 4, symbolSize: 26, silent: true,
      itemStyle: { color: "#111" },
      data: pnl.est.map((e, k) => [e, k + 1]),
    });
    series.push({
      type: "scatter", xAxisIndex: gi, yAxisIndex: gi, z: 5, symbolSize: 0.1, silent: true,
      itemStyle: { color: "transparent" },
      label: { show: true, position: "right", distance: 0, fontSize: 37, fontFamily: FONT, color: "#000", formatter: (p: any) => pnl.p[p.dataIndex] },
      data: pnl.p.map((_t, k) => [pnl.tx, k + 1.2]),
    });
    txt((pnl.x[0] + pnl.x[1]) / 2, 3118, pnl.title, { size: 41 });
    txt((pnl.x[0] + pnl.x[1]) / 2, 3587, "MVR Coeff (95% CI)", { size: 41 });
  });

  return {
    animation: false,
    backgroundColor: "#fff",
    textStyle: { fontFamily: FONT },
    grid: grids,
    xAxis: xAxes,
    yAxis: yAxes,
    series,
    graphic: { elements: graphics },
  };
}

export default function App() {
  const ref = useRef<HTMLDivElement>(null);
  useEffect(() => {
    document.body.style.margin = "0";
    const chart = echarts.init(ref.current as HTMLDivElement, null, { renderer: "svg", width: W, height: H });
    chart.setOption(buildOption() as any);
    return () => chart.dispose();
  }, []);
  return <div ref={ref} style={{ width: W, height: H, background: "#fff" }} />;
}
